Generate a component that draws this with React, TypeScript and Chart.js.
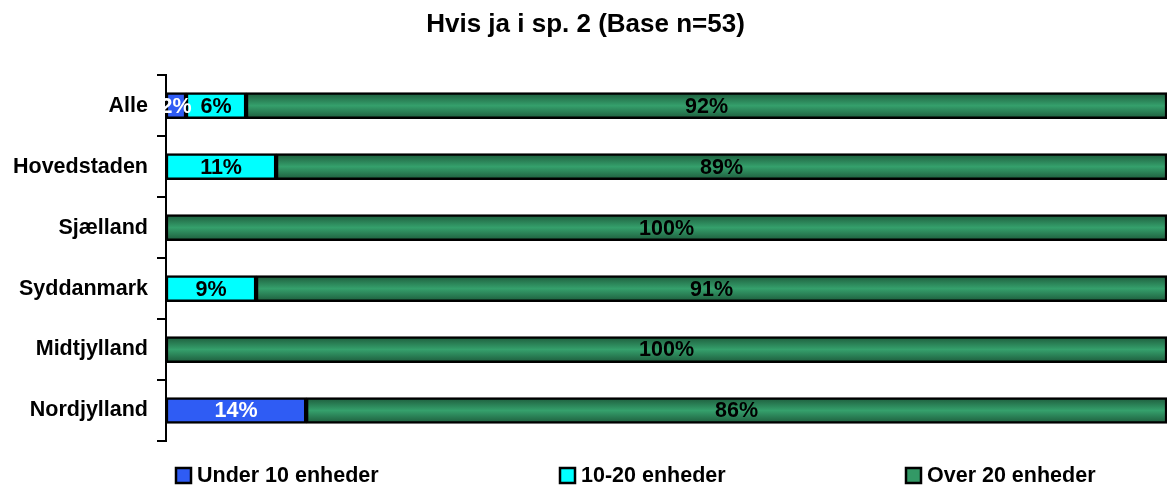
import React, { useEffect, useRef } from "react";
import { Chart, registerables } from "chart.js";

Chart.register(...registerables);

const titleText = "Hvis ja i sp. 2 (Base n=53)";
const categories = ["Alle", "Hovedstaden", "Sjælland", "Syddanmark", "Midtjylland", "Nordjylland"];
const seriesNames = ["Under 10 enheder", "10-20 enheder", "Over 20 enheder"];
const under10 = [2, 0, 0, 0, 0, 14];
const from10to20 = [6, 11, 0, 9, 0, 0];
const over20 = [92, 89, 100, 91, 100, 86];
const seriesColors = ["#2f5cf4", "#00ffff", "#339966"];
const labelColors = ["#ffffff", "#000000", "#000000"];

const FONT = "'Liberation Sans', Arial, Helvetica, sans-serif";
const TEXT_SIZE = 21.5;

const dataLabelPlugin = {
  id: "dataLabels",
  afterDatasetsDraw(chart: any) {
    const ctx = chart.ctx;
    ctx.save();
    ctx.font = `bold ${TEXT_SIZE}px ${FONT}`;
    ctx.textAlign = "center";
    ctx.textBaseline = "middle";
    chart.data.datasets.forEach((ds: any, di: number) => {
      const meta = chart.getDatasetMeta(di);
      meta.data.forEach((el: any, i: number) => {
        const v = ds.data[i];
        if (!v) return;
        const p = el.getProps(["x", "y", "base"], true);
        ctx.fillStyle = labelColors[di];
        ctx.fillText(`${v}%`, (p.x + p.base) / 2, p.y + 1);
      });
    });
    ctx.restore();
  },
};

const legendPlugin = {
  id: "customLegend",
  afterDraw(chart: any) {
    const ctx = chart.ctx;
    const xs = [176, 560, 906];
    const y = 475;
    ctx.save();
    ctx.font = `bold ${TEXT_SIZE}px ${FONT}`;
    ctx.textBaseline = "middle";
    ctx.textAlign = "left";
    seriesNames.forEach((name, i) => {
      const x = xs[i];
      ctx.fillStyle = seriesColors[i];
      ctx.fillRect(x, y - 7, 15, 15);
      ctx.strokeStyle = "#000";
      ctx.lineWidth = 2.5;
      ctx.strokeRect(x, y - 7, 15, 15);
      ctx.fillStyle = "#000";
      ctx.fillText(name, x + 21, y + 1);
    });
    ctx.restore();
  },
};

function greenFill(context: any) {
  const chart = context.chart;
  const { ctx, chartArea } = chart;
  if (!chartArea) return seriesColors[2];
  const yScale = chart.scales.y;
  const cy = yScale.getPixelForValue(context.dataIndex);
  const g = ctx.createLinearGradient(0, cy - 13, 0, cy + 13);
  g.addColorStop(0, "#1d5a3b");
  g.addColorStop(0.5, "#35a06c");
  g.addColorStop(1, "#1d5a3b");
  return g;
}

export default function App() {
  const ref = useRef<HTMLCanvasElement>(null);
  useEffect(() => {
    document.body.style.margin = "0";
    const chart = new Chart(ref.current!, {
      type: "bar",
      data: {
        labels: categories,
        datasets: [
          { label: seriesNames[0], data: under10, backgroundColor: seriesColors[0] },
          { label: seriesNames[1], data: from10to20, backgroundColor: seriesColors[1] },
          { label: seriesNames[2], data: over20, backgroundColor: greenFill as any },
        ].map((d) => ({
          ...d,
          borderColor: "#000",
          borderWidth: 2.5,
          borderSkipped: false,
          barThickness: 26,
        })),
      },
      options: {
        indexAxis: "y",
        animation: false,
        responsive: false,
        layout: { padding: { left: 4, right: 1, top: 0, bottom: 48 } },
        scales: {
          x: { stacked: true, min: 0, max: 100, display: false },
          y: {
            stacked: true,
            offset: true,
            border: { display: true, color: "#000", width: 2 },
            grid: {
              display: true,
              offset: true,
              drawOnChartArea: false,
              drawTicks: true,
              tickLength: 9,
              color: "#000",
              lineWidth: 2,
            },
            ticks: {
              color: "#000",
              padding: 9,
              font: { family: FONT, size: TEXT_SIZE, weight: "bold" },
            },
          },
        },
        plugins: {
          legend: { display: false },
          tooltip: { enabled: false },
          title: {
            display: true,
            text: titleText,
            color: "#000",
            font: { family: FONT, size: 26, weight: "bold" },
            padding: { top: 9, bottom: 35 },
          },
        },
      },
      plugins: [dataLabelPlugin, legendPlugin],
    });
    return () => chart.destroy();
  }, []);
  return <canvas ref={ref} width={1168} height={489} style={{ display: "block" }} />;
}
